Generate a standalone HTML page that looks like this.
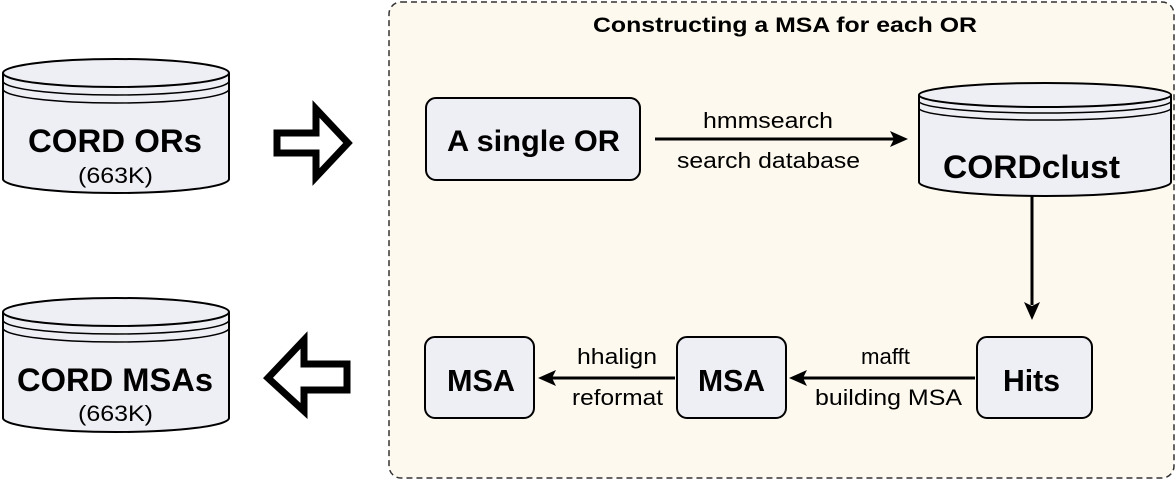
<!DOCTYPE html>
<html><head><style>
html,body{margin:0;padding:0;background:#fff;}
svg{display:block;font-family:"Liberation Sans",Arial,sans-serif;}
</style></head><body>
<svg width="1176" height="480" viewBox="0 0 1176 480" xmlns="http://www.w3.org/2000/svg">
<rect x="389" y="2" width="785" height="476" rx="12" fill="#fdf9ee" stroke="#333" stroke-width="1.5" stroke-dasharray="6,4"/>
<text x="593" y="32" font-size="21" font-weight="bold" textLength="384" lengthAdjust="spacingAndGlyphs">Constructing a MSA for each OR</text>

<g stroke="#000" stroke-width="2" fill="#eeeef5">
<path d="M3,73 L3,179 A113,14 0 0 0 229,179 L229,73"/>
<ellipse cx="116" cy="73" rx="113" ry="14"/>
<path d="M3,81 A113,14 0 0 0 229,81 M3,89 A113,14 0 0 0 229,89" fill="none" stroke-width="1.5"/>
</g>
<text x="28" y="152" font-size="32" font-weight="bold" textLength="174" lengthAdjust="spacingAndGlyphs">CORD ORs</text>
<text x="78" y="183" font-size="22" textLength="75" lengthAdjust="spacingAndGlyphs">(663K)</text>

<g stroke="#000" stroke-width="2" fill="#eeeef5">
<path d="M3,312 L3,418 A113,14 0 0 0 229,418 L229,312"/>
<ellipse cx="116" cy="312" rx="113" ry="14"/>
<path d="M3,320 A113,14 0 0 0 229,320 M3,328 A113,14 0 0 0 229,328" fill="none" stroke-width="1.5"/>
</g>
<text x="17" y="391" font-size="32" font-weight="bold" textLength="196" lengthAdjust="spacingAndGlyphs">CORD MSAs</text>
<text x="78" y="421" font-size="22" textLength="75" lengthAdjust="spacingAndGlyphs">(663K)</text>

<polygon points="277,133 316,133 316,109 348,143 316,177 316,153 277,153" fill="#fff" stroke="#000" stroke-width="7" stroke-linejoin="miter"/>
<polygon points="347,364 304,364 304,340 268,378 304,411 304,390 347,390" fill="#fff" stroke="#000" stroke-width="7" stroke-linejoin="miter"/>

<g fill="#eeeef5" stroke="#000" stroke-width="2">
<rect x="426" y="98" width="214" height="82" rx="10"/>
<rect x="425" y="337" width="109" height="81" rx="10"/>
<rect x="677" y="337" width="109" height="81" rx="10"/>
<rect x="977" y="337" width="115" height="81" rx="10"/>
</g>
<text x="447" y="151" font-size="30" font-weight="bold" textLength="173" lengthAdjust="spacingAndGlyphs">A single OR</text>
<text x="447" y="391" font-size="31" font-weight="bold" textLength="68" lengthAdjust="spacingAndGlyphs">MSA</text>
<text x="698" y="391" font-size="31" font-weight="bold" textLength="67" lengthAdjust="spacingAndGlyphs">MSA</text>
<text x="1003" y="391" font-size="31" font-weight="bold" textLength="57" lengthAdjust="spacingAndGlyphs">Hits</text>

<g stroke="#000" stroke-width="2" fill="#eeeef5">
<path d="M919,95 L919,182 A126,14 0 0 0 1171,182 L1171,95"/>
<ellipse cx="1045" cy="95" rx="126" ry="12"/>
<path d="M919,101 A126,12 0 0 0 1171,101 M919,108 A126,12 0 0 0 1171,108" fill="none" stroke-width="1.5"/>
</g>
<text x="943" y="178" font-size="32" font-weight="bold" textLength="177" lengthAdjust="spacingAndGlyphs">CORDclust</text>

<g stroke="#000" stroke-width="3" fill="none">
<line x1="655" y1="139" x2="895" y2="139"/>
<line x1="1032" y1="196" x2="1032" y2="305"/>
<line x1="975" y1="378" x2="800" y2="378"/>
<line x1="675" y1="378" x2="550" y2="378"/>
</g>
<g fill="#000">
<polygon points="908,139 890,131 894,139 890,147"/>
<polygon points="1032,320 1024,302 1032,306 1040,302"/>
<polygon points="789,378 807,370 803,378 807,386"/>
<polygon points="538,378 556,370 552,378 556,386"/>
</g>
<g font-size="22">
<text x="703" y="128" textLength="130" lengthAdjust="spacingAndGlyphs">hmmsearch</text>
<text x="677" y="168" textLength="183" lengthAdjust="spacingAndGlyphs">search database</text>
<text x="861" y="364" textLength="49" lengthAdjust="spacingAndGlyphs">mafft</text>
<text x="815" y="405" textLength="147" lengthAdjust="spacingAndGlyphs">building MSA</text>
<text x="577" y="364" textLength="80" lengthAdjust="spacingAndGlyphs">hhalign</text>
<text x="572" y="405" textLength="91" lengthAdjust="spacingAndGlyphs">reformat</text>
</g>
</svg>
</body></html>
